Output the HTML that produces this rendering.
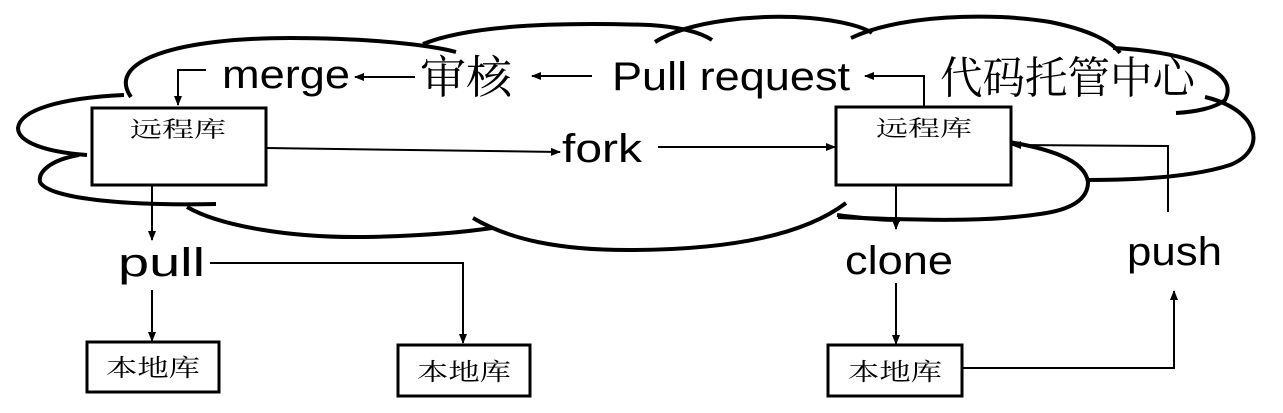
<!DOCTYPE html>
<html><head><meta charset="utf-8"><style>
html,body{margin:0;padding:0;background:#fff;}
svg{display:block;}
.l{font-family:"Liberation Sans","Noto Sans CJK SC",sans-serif;fill:#000;}
.c{font-family:"Liberation Serif","Noto Serif CJK SC","Noto Sans CJK SC",serif;fill:#000;}
</style></head><body>
<svg width="1283" height="413" viewBox="0 0 1283 413" xmlns="http://www.w3.org/2000/svg">
<defs>
<marker id="a" markerWidth="10" markerHeight="8" refX="9" refY="4" orient="auto" markerUnits="userSpaceOnUse">
<path d="M0,0 L10,4 L0,8 z" fill="#000"/></marker>
</defs>
<g fill="none" stroke="#000" stroke-width="4" stroke-linecap="butt">
<!-- cloud lobes -->
<path d="M131,97 C105,60 180,38 290,38 C370,38 430,45 456,52"/>
<path d="M423,44 C470,25 560,22 650,25 C680,27 700,32 712,40"/>
<path d="M655,42 C690,20 760,14 810,18 C845,21 865,28 872,33"/>
<path d="M851,38 C900,15 990,12 1050,22 C1090,30 1112,42 1120,53"/>
<path d="M1113,48 C1190,52 1240,72 1225,100 C1215,108 1195,112 1176,113"/>
<path d="M1205,97 C1260,110 1268,150 1230,165 C1190,178 1130,180 1088,180"/>
<path d="M997,140 C1050,148 1085,160 1088,182 C1088,200 1070,210 1040,214 C1000,220 950,222 838,217"/>
<path d="M124,95 C60,98 20,110 18,128 C18,142 45,152 87,155"/>
<path d="M79,155 C50,160 38,172 40,182 C48,198 120,206 216,204"/>
<path d="M187,207 C220,226 290,238 365,237 C420,236 465,232 492,228"/>
<path d="M473,218 C510,240 560,250 628,250 C720,250 800,238 846,203"/>
<path d="M837,215 C860,218 880,220 900,220"/>
</g>
<!-- boxes -->
<g fill="#fff" stroke="#000" stroke-width="3">
<rect x="92" y="108" width="174" height="77"/>
<rect x="836" y="107" width="175" height="78"/>
<rect x="87" y="342" width="132" height="50"/>
<rect x="398" y="345" width="132" height="51"/>
<rect x="828" y="345" width="134" height="51"/>
</g>
<!-- connectors -->
<g fill="none" stroke="#000" stroke-width="2">
<path d="M206,70 L178,70 L178,105" marker-end="url(#a)"/>
<path d="M415,77 L355,77" marker-end="url(#a)"/>
<path d="M592,76 L532,76" marker-end="url(#a)"/>
<path d="M924,107 L924,76 L865,76" marker-end="url(#a)"/>
<path d="M266,148 L560,152" marker-end="url(#a)"/>
<path d="M658,147 L835,147" marker-end="url(#a)"/>
<path d="M152,185 L152,240" marker-end="url(#a)"/>
<path d="M152,290 L152,341" marker-end="url(#a)"/>
<path d="M210,263 L463,263 L463,343" marker-end="url(#a)"/>
<path d="M896,185 L896,229" marker-end="url(#a)"/>
<path d="M896,283 L896,344" marker-end="url(#a)"/>
<path d="M962,368 L1174,368 L1174,291" marker-end="url(#a)"/>
<path d="M1168,212 L1168,146 L1012,145" marker-end="url(#a)"/>
</g>
<!-- labels -->
<text class="l" x="222" y="88" font-size="40" textLength="128" lengthAdjust="spacingAndGlyphs">merge</text>
<text class="c" x="420" y="93" font-size="45" textLength="92" lengthAdjust="spacingAndGlyphs">审核</text>
<text class="l" x="612" y="90" font-size="40" textLength="238" lengthAdjust="spacingAndGlyphs">Pull request</text>
<text class="c" x="940" y="93" font-size="44" textLength="255" lengthAdjust="spacingAndGlyphs">代码托管中心</text>
<text class="l" x="562" y="162" font-size="40" textLength="80" lengthAdjust="spacingAndGlyphs">fork</text>
<text class="l" x="118" y="276" font-size="40" textLength="87" lengthAdjust="spacingAndGlyphs">pull</text>
<text class="l" x="845" y="274" font-size="40" textLength="108" lengthAdjust="spacingAndGlyphs">clone</text>
<text class="l" x="1127" y="265" font-size="40" textLength="95" lengthAdjust="spacingAndGlyphs">push</text>
<text class="c" x="130" y="137" font-size="22" textLength="96" lengthAdjust="spacingAndGlyphs">远程库</text>
<text class="c" x="876" y="136" font-size="22" textLength="96" lengthAdjust="spacingAndGlyphs">远程库</text>
<text class="c" x="106" y="376" font-size="24" textLength="94" lengthAdjust="spacingAndGlyphs">本地库</text>
<text class="c" x="417" y="380" font-size="24" textLength="94" lengthAdjust="spacingAndGlyphs">本地库</text>
<text class="c" x="848" y="380" font-size="24" textLength="94" lengthAdjust="spacingAndGlyphs">本地库</text>
</svg>
</body></html>
